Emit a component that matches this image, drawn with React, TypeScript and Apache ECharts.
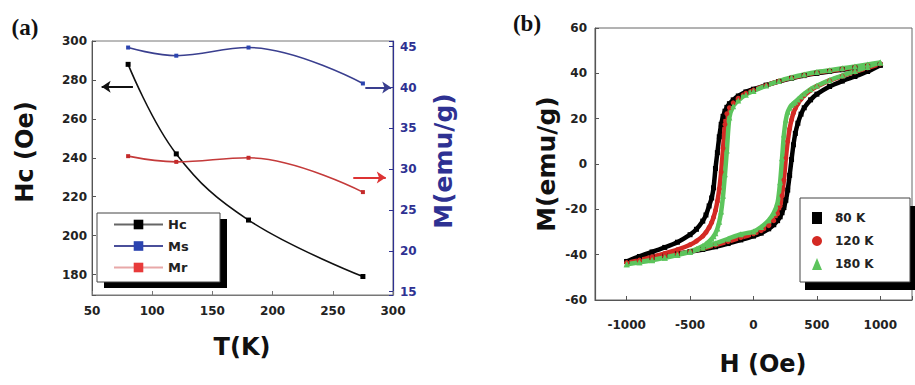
import React, { useEffect, useRef } from 'react';
import * as echarts from 'echarts';

// ---------- Panel (a) ----------
const temperatures = [80, 120, 180, 275];
const hcValues = [288, 242, 208, 179];
const msValues = [44.9, 43.9, 44.9, 40.5];
const mrValues = [31.6, 30.9, 31.4, 27.2];
const panelASeries = ['Hc', 'Ms', 'Mr'];

// annotation arrows (data coordinates)
const hcArrow = [[84, 276.5], [58, 276.5]];
const msArrow = [[277, 40.0], [298.5, 40.0]];
const mrArrow = [[267, 29.0], [294, 29.0]];

// ---------- Panel (b) ----------
const tempLabels = ['80 K', '120 K', '180 K'];
const fieldDown = [1000, 900, 800, 700, 600, 500, 400, 300, 200, 100, 0, -60, -120, -160, -190, -210, -225, -240, -255, -270, -285, -300, -315, -330, -350, -375, -400, -450, -500, -600, -700, -800, -900, -1000];
const fieldUp = [-1000, -900, -800, -700, -600, -500, -400, -300, -200, -100, 0, 60, 120, 160, 190, 210, 225, 240, 255, 270, 285, 300, 315, 330, 350, 375, 400, 450, 500, 600, 700, 800, 900, 1000];

const m80Down = [43.6, 43.0, 42.3, 41.6, 40.8, 40.0, 39.0, 37.8, 36.4, 34.8, 33.0, 31.8, 30.0, 28.3, 26.6, 25.0, 23.3, 21.0, 17.5, 12.0, 5.0, -2.0, -10.5, -15.0, -18.5, -22.5, -25.2, -28.8, -31.2, -34.5, -36.8, -38.8, -40.8, -43.0];
const m80Up = [-43.0, -42.0, -41.2, -40.4, -39.6, -38.7, -37.7, -36.5, -35.1, -33.5, -31.8, -30.5, -28.6, -26.8, -25.0, -23.3, -21.5, -19.2, -16.0, -11.5, -5.0, 2.0, 8.5, 13.5, 18.0, 22.0, 24.8, 28.3, 30.8, 34.2, 36.6, 38.6, 40.8, 43.6];

const m120Down = [44.2, 43.5, 42.7, 41.9, 41.1, 40.3, 39.2, 38.0, 36.5, 34.7, 32.6, 31.2, 29.0, 27.0, 24.8, 22.2, 17.5, 7.0, -3.5, -11.0, -16.5, -20.5, -23.5, -25.8, -28.0, -30.2, -31.8, -34.0, -35.6, -37.8, -39.5, -41.0, -42.4, -43.6];
const m120Up = [-43.6, -42.8, -41.9, -40.9, -39.8, -38.6, -37.3, -35.8, -34.2, -32.5, -30.8, -29.4, -27.2, -25.0, -22.0, -18.5, -14.0, -7.0, 2.5, 10.0, 15.5, 19.5, 22.5, 24.6, 26.6, 28.6, 30.2, 32.5, 34.2, 36.8, 38.8, 40.6, 42.4, 44.2];

const m180Down = [44.8, 43.9, 43.0, 42.2, 41.4, 40.6, 39.5, 38.2, 36.6, 34.6, 32.2, 30.6, 28.0, 25.5, 20.5, 6.0, -4.5, -14.0, -21.0, -25.5, -28.5, -30.5, -31.9, -33.0, -34.2, -35.3, -36.2, -37.5, -38.5, -40.0, -41.2, -42.3, -43.3, -44.2];
const m180Up = [-44.2, -43.4, -42.5, -41.4, -40.2, -38.8, -37.0, -35.0, -33.0, -31.0, -29.8, -27.8, -24.8, -21.5, -17.0, -8.0, 2.5, 13.0, 19.5, 23.0, 24.8, 26.0, 26.8, 27.5, 28.5, 29.8, 31.0, 33.0, 34.5, 37.0, 39.0, 41.0, 42.8, 44.8];

const FONT = 'DejaVu Sans';
const NAVY = '#2e3192';

function loop(down: number[], up: number[]) {
  return fieldDown.map((h, i) => [h, down[i]]).concat(fieldUp.map((h, i) => [h, up[i]]));
}

function pair(a: number[][]) {
  return [[{ coord: a[0] }, { coord: a[1] }]];
}

function txt(text: string, x: number, y: number, font: string, fill: string, rot = 0) {
  return {
    type: 'text', x, y, rotation: rot,
    style: { text, font, fill, align: 'center', verticalAlign: 'middle', textAlign: 'center', textVerticalAlign: 'middle' },
  };
}

// legend frame with a hard black drop shadow
function frame(x: number, y: number, w: number, h: number, dx: number, dy: number) {
  return [
    { type: 'rect', z: 5, shape: { x: x + dx, y: y + dy, width: w, height: h }, style: { fill: '#000' }, silent: true },
    { type: 'rect', z: 6, shape: { x, y, width: w, height: h }, style: { fill: '#fff', stroke: '#444', lineWidth: 1 }, silent: true },
  ];
}

export default function App() {
  const ref = useRef<HTMLDivElement>(null);
  useEffect(() => {
    document.body.style.margin = '0';
    const chart = echarts.init(ref.current!, null, { renderer: 'svg' });
    const labelA = { fontFamily: FONT, fontWeight: 'bold', fontSize: 12, color: '#222' };
    const option: any = {
      animation: false,
      backgroundColor: '#fff',
      grid: [
        { left: 92, top: 41, width: 301, height: 254, show: true, borderColor: '#777', borderWidth: 1, backgroundColor: 'transparent' },
        { left: 595, top: 28, width: 325, height: 272, show: true, borderColor: '#666', borderWidth: 1, backgroundColor: 'transparent' },
      ],
      xAxis: [
        {
          gridIndex: 0, type: 'value', min: 50, max: 300, interval: 50,
          axisLine: { onZero: false, lineStyle: { color: '#777', width: 1 } },
          axisTick: { inside: true, length: 4, lineStyle: { color: '#777' } },
          axisLabel: { ...labelA, margin: 10 },
          splitLine: { show: false },
        },
        {
          gridIndex: 1, type: 'value', min: -1250, max: 1250, splitNumber: 5,
          axisLine: { onZero: false, lineStyle: { color: '#555', width: 1.2 } },
          axisTick: { inside: true, length: 4, lineStyle: { color: '#555' } },
          axisLabel: { ...labelA, margin: 19, formatter: (v: number) => (v % 500 === 0 ? String(v) : '') },
          splitLine: { show: false },
        },
      ],
      yAxis: [
        {
          gridIndex: 0, type: 'value', position: 'left', min: 169.5, max: 300, splitNumber: 6,
          axisLine: { show: true, onZero: false, lineStyle: { color: '#555' } },
          axisTick: { show: true, inside: true, length: 4, lineStyle: { color: '#555' } },
          axisLabel: { ...labelA, margin: 5, formatter: (v: number) => (v % 20 === 0 ? String(v) : '') },
          splitLine: { show: false },
        },
        {
          gridIndex: 0, type: 'value', position: 'right', min: 14.6, max: 45.7, splitNumber: 6,
          axisLine: { show: true, onZero: false, lineStyle: { color: NAVY, width: 1.2 } },
          axisTick: { show: true, inside: true, length: 4, lineStyle: { color: NAVY } },
          axisLabel: { ...labelA, color: NAVY, margin: 7, formatter: (v: number) => (v % 5 === 0 ? String(v) : '') },
          splitLine: { show: false },
        },
        {
          gridIndex: 1, type: 'value', min: -60, max: 60, interval: 20,
          axisLine: { show: true, onZero: false, lineStyle: { color: '#555', width: 1.2 } },
          axisTick: { show: true, inside: true, length: 4, lineStyle: { color: '#555' } },
          axisLabel: { ...labelA, margin: 8 },
          splitLine: { show: false },
        },
      ],
      legend: [
        {
          left: 97, top: 213, orient: 'vertical', padding: [5, 2, 5, 16], itemGap: 8.5, z: 10,
          itemWidth: 49, itemHeight: 12, selectedMode: false,
          backgroundColor: 'transparent', borderWidth: 0,
          textStyle: { fontFamily: FONT, fontWeight: 'bold', fontSize: 13, color: '#222' },
          data: [
            { name: panelASeries[0], lineStyle: { color: '#666', width: 2 }, itemStyle: { color: '#000' } },
            { name: panelASeries[1], lineStyle: { color: '#4a4f9a', width: 2 }, itemStyle: { color: '#2b44b0' } },
            { name: panelASeries[2], lineStyle: { color: '#e8a8a8', width: 2 }, itemStyle: { color: '#e83a3a' } },
          ],
        },
        {
          left: 800, top: 198, orient: 'vertical', padding: [14, 2, 12, 12], itemGap: 11, z: 10,
          itemWidth: 10, itemHeight: 12, selectedMode: false,
          backgroundColor: 'transparent', borderWidth: 0,
          textStyle: { fontFamily: FONT, fontWeight: 'bold', fontSize: 12, color: '#222', padding: [0, 0, 0, 8] },
          data: [
            { name: tempLabels[0], icon: 'rect' },
            { name: tempLabels[1], icon: 'circle' },
            { name: tempLabels[2], icon: 'triangle' },
          ],
        },
      ],
      graphic: [
        ...frame(97, 213, 123, 69, 7, 6),
        ...frame(800, 198, 110, 84, 5, 8),
        txt('(a)', 25, 27, 'bold 23px "Liberation Serif"', '#111'),
        txt('(b)', 527, 23, 'bold 23px "Liberation Serif"', '#111'),
        txt('Hc (Oe)', 25, 152, 'bold 24px "DejaVu Sans"', '#111', Math.PI / 2),
        txt('M(emu/g)', 443, 161, 'bold 25px "DejaVu Sans"', NAVY, Math.PI / 2),
        txt('T(K)', 242, 347, 'bold 24px "DejaVu Sans"', '#111'),
        txt('M(emu/g)', 546, 164, 'bold 25px "DejaVu Sans"', '#111', Math.PI / 2),
        txt('H (Oe)', 763, 364, 'bold 24px "DejaVu Sans"', '#111'),
      ],
      series: [
        {
          name: panelASeries[0], type: 'line', xAxisIndex: 0, yAxisIndex: 0, smooth: 0.4,
          data: temperatures.map((t, i) => [t, hcValues[i]]),
          symbol: 'rect', symbolSize: 5, itemStyle: { color: '#000' }, lineStyle: { color: '#111', width: 1.6 },
          markLine: { silent: true, symbol: ['none', 'arrow'], symbolSize: 9, label: { show: false }, lineStyle: { color: '#111', width: 2, type: 'solid' }, data: pair(hcArrow) },
        },
        {
          name: panelASeries[1], type: 'line', xAxisIndex: 0, yAxisIndex: 1, smooth: 0.4,
          data: temperatures.map((t, i) => [t, msValues[i]]),
          symbol: 'rect', symbolSize: 4, itemStyle: { color: '#2b44b0' }, lineStyle: { color: '#3a3f8f', width: 1.6 },
          markLine: { silent: true, symbol: ['none', 'arrow'], symbolSize: 9, label: { show: false }, lineStyle: { color: '#3a3f8f', width: 2, type: 'solid' }, data: pair(msArrow) },
        },
        {
          name: panelASeries[2], type: 'line', xAxisIndex: 0, yAxisIndex: 1, smooth: 0.4,
          data: temperatures.map((t, i) => [t, mrValues[i]]),
          symbol: 'rect', symbolSize: 4, itemStyle: { color: '#c42a2a' }, lineStyle: { color: '#c43a3a', width: 1.6 },
          markLine: { silent: true, symbol: ['none', 'arrow'], symbolSize: 9, label: { show: false }, lineStyle: { color: '#d33', width: 2, type: 'solid' }, data: pair(mrArrow) },
        },
        {
          name: tempLabels[0], type: 'line', xAxisIndex: 1, yAxisIndex: 2, smooth: 0.25,
          data: loop(m80Down, m80Up), symbol: 'rect', symbolSize: 5,
          itemStyle: { color: '#000' }, lineStyle: { color: '#000', width: 4.5 },
        },
        {
          name: tempLabels[1], type: 'line', xAxisIndex: 1, yAxisIndex: 2, smooth: 0.25,
          data: loop(m120Down, m120Up), symbol: 'circle', symbolSize: 5,
          itemStyle: { color: '#d42a24' }, lineStyle: { color: '#d42a24', width: 4.5 },
        },
        {
          name: tempLabels[2], type: 'line', xAxisIndex: 1, yAxisIndex: 2, smooth: 0.25,
          data: loop(m180Down, m180Up), symbol: 'triangle', symbolSize: 6,
          itemStyle: { color: '#5cc45c' }, lineStyle: { color: '#5cc45c', width: 4.5 },
        },
      ],
    };
    chart.setOption(option);
    return () => chart.dispose();
  }, []);
  return <div ref={ref} style={{ position: 'absolute', left: 0, top: 0, width: 915, height: 385 }} />;
}
